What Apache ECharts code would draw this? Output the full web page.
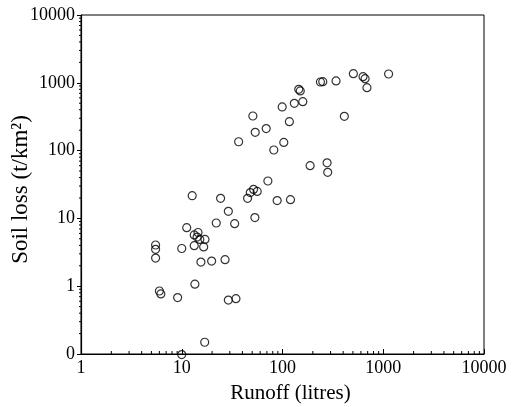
<!DOCTYPE html>
<html>
<head>
<meta charset="utf-8">
<style>html,body{margin:0;padding:0;background:#fff}#c{width:512px;height:407px}</style>
<script src="https://cdn.jsdelivr.net/npm/echarts@6/dist/echarts.min.js"></script>
</head>
<body>
<div id="c"></div>
<script>
// Runoff (litres)
const runoff = [5.5, 5.5, 5.5, 6.0, 6.2, 9.1, 10, 11.2, 12.7, 13.5, 13.3, 13.3, 14.5, 15.1, 17.0, 16.5, 15.5, 19.8, 16.9, 10,
  22.0, 24.3, 26.9, 29.0, 33.5, 29.0, 34.5, 36.7, 45, 47.9, 51.6, 56.1, 53.2, 50.8, 53.6, 68.9, 71.6, 82, 88.5, 99.3,
  103, 117, 120, 131, 159, 145, 150, 188, 238, 251, 277, 281, 340, 411, 505, 630, 660, 689, 1130, 14.2];
// Soil loss (t/km2)
const soilLoss = [4.05, 3.5, 2.6, 0.85, 0.77, 0.68, 3.6, 7.3, 21.6, 1.07, 5.7, 3.96, 6.2, 4.9, 4.9, 3.8, 2.27, 2.35, 0.149, 0.098,
  8.55, 19.8, 2.46, 12.7, 8.36, 0.625, 0.655, 135, 19.8, 24, 26.8, 25, 10.3, 324, 186, 211, 35.6, 102, 18.3, 440,
  132, 267, 18.9, 498, 527, 801, 760, 60, 1028, 1040, 66, 47.8, 1065, 320, 1364, 1230, 1150, 848, 1349, 5.3];
const xTickValues = [1, 10, 100, 1000, 10000];
const yTickValues = [0.1, 1, 10, 100, 1000, 10000];

const minorX = [];
for (let d = 1; d < 10000; d *= 10) for (let m = 2; m <= 9; m++) minorX.push([d * m, 0.1]);
const minorY = [];
for (let d = 0.1; d < 9999; d *= 10) for (let m = 2; m <= 9; m++) minorY.push([1, +(d * m).toPrecision(3)]);

const font = '"Liberation Serif", "Times New Roman", serif';
const chart = echarts.init(document.getElementById('c'));
chart.setOption({
  animation: false,
  backgroundColor: '#fff',
  grid: { left: 81, right: 28, top: 15, bottom: 53, show: true, borderColor: '#000', borderWidth: 1,
    backgroundColor: 'transparent', containLabel: false, outerBoundsMode: 'none' },
  xAxis: {
    type: 'log', logBase: 10, min: 1, max: 10000,
    name: 'Runoff (litres)', nameLocation: 'middle', nameGap: 29, nameMoveOverlap: false,
    nameTextStyle: { fontFamily: font, fontSize: 21, color: '#000', padding: [0, 0, 0, 16] },
    axisLine: { lineStyle: { color: '#000', width: 1.2 } },
    axisTick: { inside: true, length: 5, lineStyle: { color: '#000' } },
    splitLine: { show: false },
    axisLabel: { fontFamily: font, fontSize: 18, color: '#000', margin: 5,
      formatter: v => String(Math.round(v)) }
  },
  yAxis: {
    type: 'log', logBase: 10, min: 0.1, max: 10000,
    name: 'Soil loss (t/km²)', nameLocation: 'middle', nameGap: 49, nameMoveOverlap: false,
    nameTextStyle: { fontFamily: font, fontSize: 23, color: '#000', padding: [0, 10, 0, 0] },
    axisLine: { lineStyle: { color: '#000', width: 1.2 } },
    axisTick: { inside: false, length: 4, lineStyle: { color: '#000' } },
    splitLine: { show: false },
    axisLabel: { fontFamily: font, fontSize: 18, color: '#000', margin: 6,
      formatter: v => (v < 0.5 ? '0' : String(Math.round(v))) }
  },
  series: [
    {
      type: 'custom', clip: false, silent: true,
      data: minorX,
      renderItem: (params, api) => {
        const p = api.coord([api.value(0), api.value(1)]);
        return { type: 'line', shape: { x1: p[0], y1: p[1], x2: p[0], y2: p[1] - 3 }, style: { stroke: '#000', lineWidth: 1 } };
      }
    },
    {
      type: 'custom', clip: false, silent: true,
      data: minorY,
      renderItem: (params, api) => {
        const p = api.coord([api.value(0), api.value(1)]);
        return { type: 'line', shape: { x1: p[0], y1: p[1], x2: p[0] - 2, y2: p[1] }, style: { stroke: '#000', lineWidth: 1 } };
      }
    },
    {
      type: 'scatter', clip: false,
      symbol: 'circle', symbolSize: 8,
      itemStyle: { color: 'transparent', borderColor: '#000', borderWidth: 1.2 },
      data: runoff.map((x, i) => [x, soilLoss[i]])
    }
  ]
});
</script>
</body>
</html>
